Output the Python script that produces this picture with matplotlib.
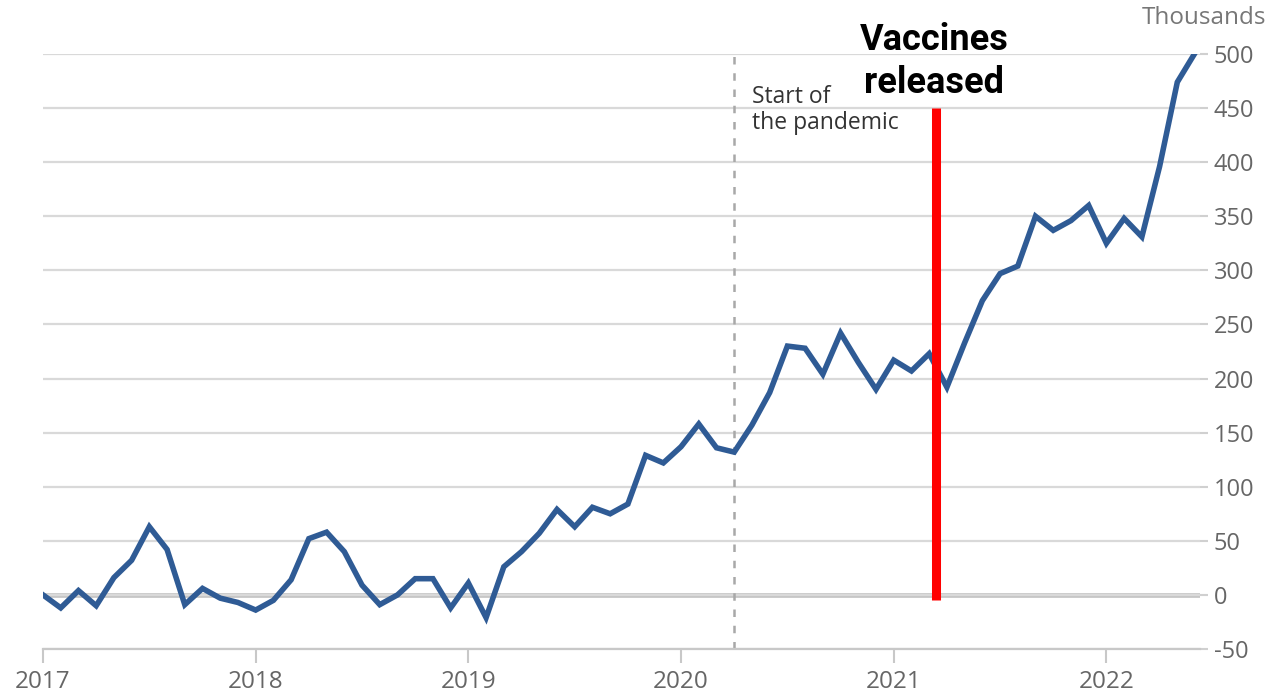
import numpy as np
import matplotlib
matplotlib.use("Agg")
import matplotlib.pyplot as plt

# Monthly values (thousands), Jan 2017 .. Jun 2022
values = [0, -12, 4, -10, 16, 32, 63, 42, -9, 6, -3, -7,
          -14, -5, 14, 52, 58, 40, 9, -9, 0, 15, 15, -12,
          11, -21, 26, 40, 57, 79, 63, 81, 75, 84, 129, 122,
          137, 158, 136, 132, 157, 187, 230, 228, 204, 242, 215, 190,
          217, 207, 223, 192, 233, 272, 297, 304, 350, 337, 346, 360,
          325, 348, 331, 396, 474, 501]
start_year = 2017
years = [2017, 2018, 2019, 2020, 2021, 2022]
yticks = [-50, 0, 50, 100, 150, 200, 250, 300, 350, 400, 450, 500]
pandemic_x = 2020.25
vaccine_x = 2021.2
pandemic_label = "Start of\nthe pandemic"
vaccine_label = "Vaccines\nreleased"
unit_label = "Thousands"

x = start_year + np.arange(len(values)) / 12.0

fig = plt.figure(figsize=(12.72, 6.92), dpi=100)
ax = fig.add_axes([43 / 1272, 1 - 649 / 692, (1200 - 43) / 1272, (649 - 54) / 692])

ax.set_xlim(2017.0, 2022.44)
ax.set_ylim(-50, 500)

ax.grid(axis="y", color="#d9d9d9", lw=1.6, zorder=0)
ax.axhline(0, color="#c4c4c4", lw=3.4, zorder=1)

ax.axvline(pandemic_x, color="#a8a8a8", lw=1.8, ls=(0, (3, 3.5)), zorder=2)
ax.text(pandemic_x + 0.083, 471, pandemic_label, fontsize=16.5, family="Open Sans",
        color="#333333", ha="left", va="top", linespacing=1.1)

ax.plot(x, values, color="#2f5b95", lw=4.0, zorder=3, solid_joinstyle="miter")

ax.plot([vaccine_x, vaccine_x], [450, -5], color="#ff0000", lw=6.5, zorder=4,
        solid_capstyle="butt")
ax.text(vaccine_x - 0.01, 530, vaccine_label, fontsize=26, fontweight="bold",
        family="Roboto", color="black", ha="center", va="top", linespacing=1.25,
        clip_on=False)

for s in ["left", "right", "top"]:
    ax.spines[s].set_visible(False)
ax.spines["bottom"].set_color("#c8c8c8")
ax.spines["bottom"].set_linewidth(1.6)

ax.yaxis.tick_right()
ax.set_yticks(yticks)
ax.set_yticklabels([str(v) for v in yticks], family="Open Sans")
ax.tick_params(axis="y", length=6, width=1.5, color="#d0d0d0", labelsize=17,
               labelcolor="#666666", pad=4)
ax.set_xticks(years)
ax.set_xticklabels([str(y) for y in years], family="Open Sans")
ax.tick_params(axis="x", length=10, width=1.5, color="#c8c8c8", labelsize=17.5,
               labelcolor="#666666", pad=5)

fig.text(1266 / 1272, 1 - 18 / 692, unit_label, fontsize=17.5, family="Open Sans",
         color="#777777", ha="right", va="center")

fig.savefig("out.png", dpi=100)
